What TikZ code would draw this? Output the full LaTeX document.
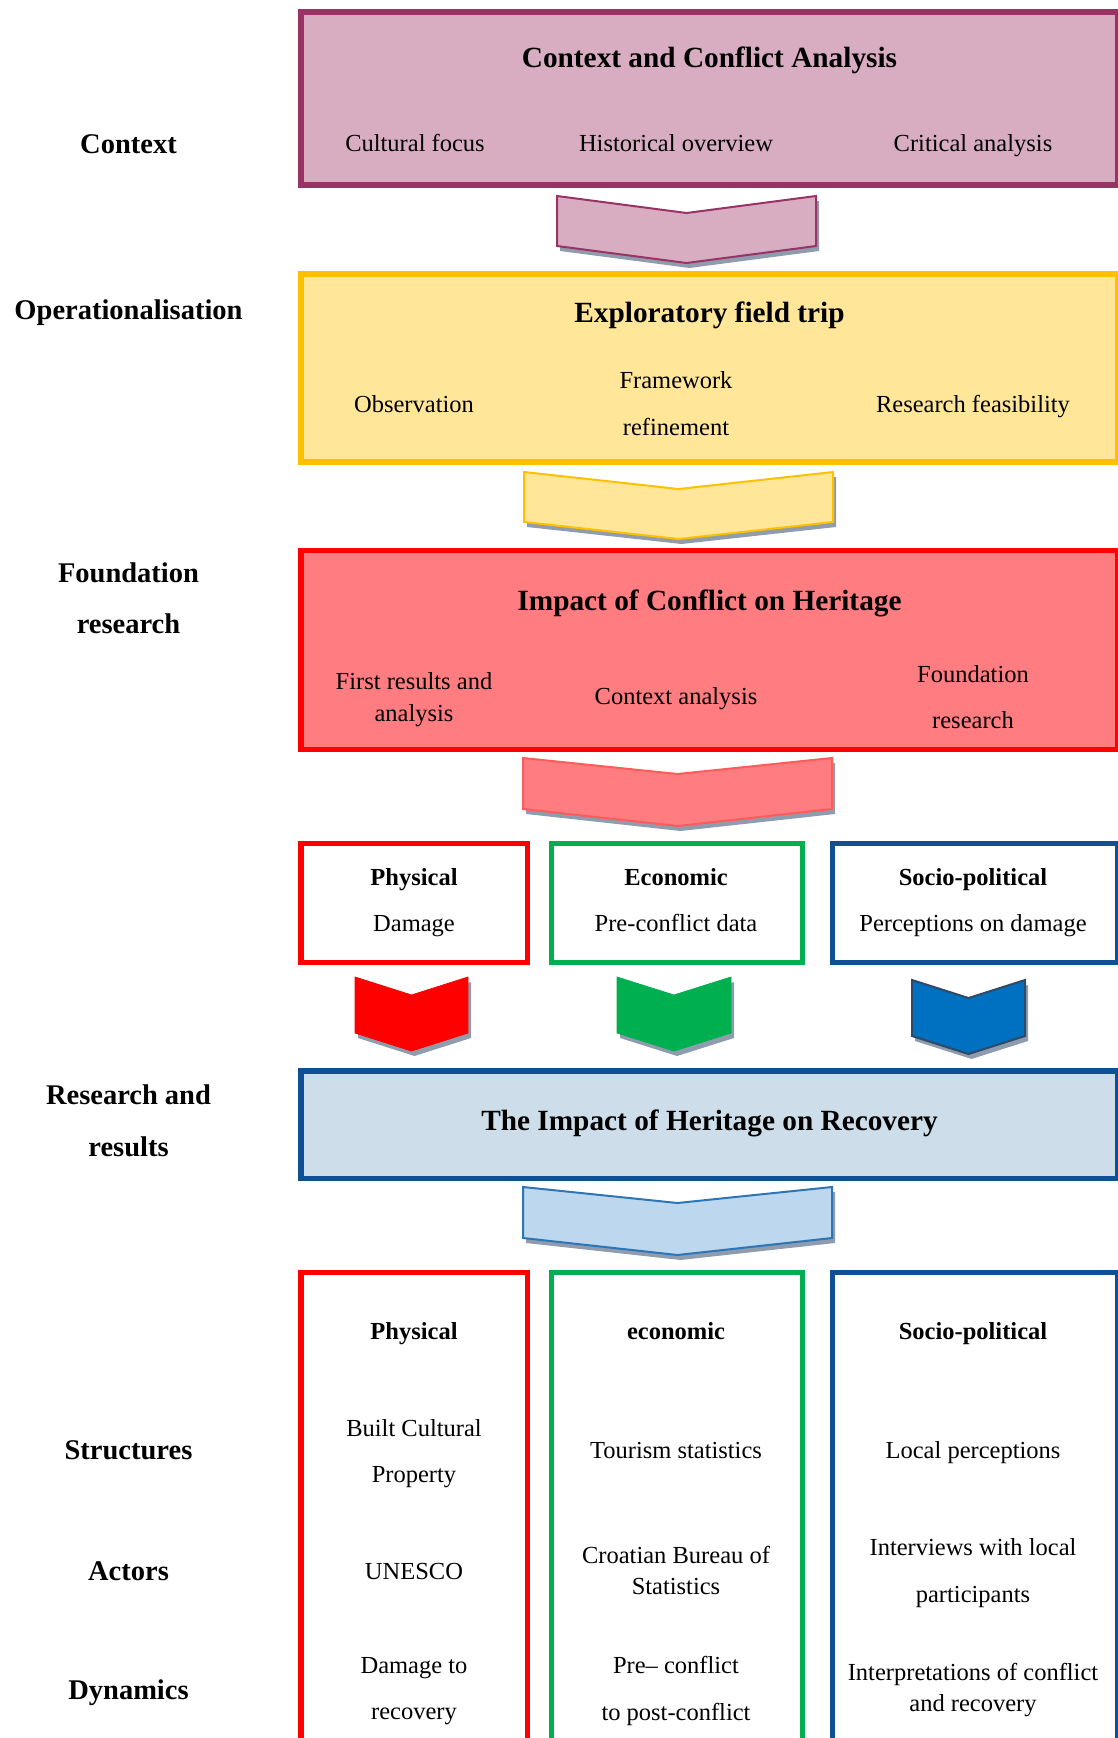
\documentclass[tikz,border=0pt]{standalone}
\usepackage{fontspec}
\setmainfont{Liberation Serif}
\usepackage{xcolor}
\usepackage{tikz}
\usetikzlibrary{shadows}

\definecolor{ctxfill}{HTML}{D8ADC1}
\definecolor{ctxline}{HTML}{993366}
\definecolor{opfill}{HTML}{FFE699}
\definecolor{opline}{HTML}{FFC000}
\definecolor{fndfill}{HTML}{FF7C80}
\definecolor{fndline}{HTML}{FF0000}
\definecolor{fndarrowline}{HTML}{FF5B5B}
\definecolor{econline}{HTML}{00B050}
\definecolor{socline}{HTML}{0F4F93}
\definecolor{recfill}{HTML}{CDDDEA}
\definecolor{recarrow}{HTML}{BDD7EE}
\definecolor{recarrowline}{HTML}{2E75B6}
\definecolor{socarrow}{HTML}{0070C0}
\definecolor{socarrowline}{HTML}{2F4A68}
\definecolor{shade}{HTML}{8F9CAD}

% struts so that descenders do not move the text
\newcommand{\itemstrut}{\rule[-7.4pt]{0pt}{31pt}}
\newcommand{\titlestrut}{\rule[-8.8pt]{0pt}{37pt}}

\begin{document}
\begin{tikzpicture}[x=1pt, y=-1pt,
  box/.style={draw, line width=5.5pt, inner sep=0pt, outer sep=0pt},
  title/.style={font=\fontsize{29.3}{35}\selectfont\bfseries, align=center, inner sep=0pt,
    execute at begin node=\titlestrut, execute at end node=\titlestrut},
  side/.style={font=\fontsize{28.5}{51.5}\selectfont\bfseries, align=center, inner sep=0pt,
    execute at begin node=\titlestrut, execute at end node=\titlestrut},
  head/.style={font=\fontsize{24.5}{30}\selectfont\bfseries, align=center, inner sep=0pt,
    execute at begin node=\itemstrut, execute at end node=\itemstrut},
  item/.style={font=\fontsize{24.5}{46.5}\selectfont, align=center, inner sep=0pt,
    execute at begin node=\itemstrut, execute at end node=\itemstrut},
  itemtight/.style={item, font=\fontsize{24.5}{31.5}\selectfont},
  chev/.style={line width=2pt, line join=miter, drop shadow={shadow xshift=3pt, shadow yshift=-5pt, fill=shade, opacity=1}}
]
\useasboundingbox (0,0) rectangle (1117,1738);

% side labels
\node[side] (lctx) at (128.5,144) {Context};
\node[side] (lop) at (128.5,310) {Operationalisation};
\node[side] (lfnd) at (128.5,602.5) {Foundation\\research};
\node[side] (lres) at (128.5,1125) {Research and\\results};
\node[side] (lstr) at (128.5,1450) {Structures};
\node[side] (lact) at (128.5,1571) {Actors};
\node[side] (ldyn) at (128.5,1690) {Dynamics};

% context
\node[box, fill=ctxfill, draw=ctxline, minimum width=817pt, minimum height=173pt] (ctx) at (709.5,98.5) {};
\node[title] (ctxtitle) at (709.5,57.6) {Context and Conflict Analysis};
\node[item] (ctxa) at (415,143) {Cultural focus};
\node[item] (ctxb) at (676,143) {Historical overview};
\node[item] (ctxc) at (973,143) {Critical analysis};
\filldraw[chev, fill=ctxfill, draw=ctxline] (557,196) -- (686.5,213) -- (816,196) -- (816,246) -- (686.5,263) -- (557,246) -- cycle;

% operationalisation
\node[box, fill=opfill, draw=opline, minimum width=817pt, minimum height=188pt] (op) at (709.5,368) {};
\node[title] (optitle) at (709.5,312.5) {Exploratory field trip};
\node[item] (opa) at (414,404.5) {Observation};
\node[item] (opb) at (676,407) {Framework\\refinement};
\node[item] (opc) at (973,404.5) {Research feasibility};
\filldraw[chev, fill=opfill, draw=opline] (524,472) -- (678.5,489) -- (833,472) -- (833,522) -- (678.5,539) -- (524,522) -- cycle;

% foundation
\node[box, fill=fndfill, draw=fndline, minimum width=817pt, minimum height=199pt] (fnd) at (709.5,650) {};
\node[title] (fndtitle) at (709.5,600.6) {Impact of Conflict on Heritage};
\node[itemtight] (fnda) at (414,700.5) {First results and\\analysis};
\node[item] (fndb) at (676,696) {Context analysis};
\node[item] (fndc) at (973,700.5) {Foundation\\research};
\filldraw[chev, fill=fndfill, draw=fndarrowline] (523,758) -- (677.5,774) -- (832,758) -- (832,809) -- (677.5,826) -- (523,809) -- cycle;

% three strands
\node[box, draw=fndline, fill=white, minimum width=226.5pt, minimum height=119pt] (physA) at (414.25,903) {};
\node[box, draw=econline, fill=white, minimum width=251pt, minimum height=119pt] (econA) at (677,903) {};
\node[box, draw=socline, fill=white, minimum width=285.5pt, minimum height=119pt] (socA) at (975.25,903) {};
\node[head] (physAh) at (414,877.6) {Physical};
\node[item] (physAt) at (414,923) {Damage};
\node[head] (econAh) at (676,877.6) {Economic};
\node[item] (econAt) at (676,923) {Pre-conflict data};
\node[head] (socAh) at (973,877.6) {Socio-political};
\node[item] (socAt) at (973,923) {Perceptions on damage};
\filldraw[chev, fill=fndline, draw=fndline, line width=0.8pt] (355,977) -- (411.5,995) -- (468,977) -- (468,1033) -- (411.5,1051) -- (355,1033) -- cycle;
\filldraw[chev, fill=econline, draw=econline, line width=0.8pt] (617,977) -- (674,995) -- (731,977) -- (731,1033) -- (674,1051) -- (617,1033) -- cycle;
\filldraw[chev, fill=socarrow, draw=socarrowline] (912,980) -- (968.5,998) -- (1025,980) -- (1025,1036) -- (968.5,1054) -- (912,1036) -- cycle;

% recovery
\node[box, fill=recfill, draw=socline, minimum width=817pt, minimum height=107.5pt] (rec) at (709.5,1124.75) {};
\node[title] (rectitle) at (709.5,1121) {The Impact of Heritage on Recovery};
\filldraw[chev, fill=recarrow, draw=recarrowline] (523,1187) -- (677.5,1203) -- (832,1187) -- (832,1238) -- (677.5,1255) -- (523,1238) -- cycle;

% results columns
\node[box, draw=fndline, minimum width=226.5pt, minimum height=472.5pt] (physB) at (414.25,1508.75) {};
\node[box, draw=econline, minimum width=251pt, minimum height=472.5pt] (econB) at (677,1508.75) {};
\node[box, draw=socline, minimum width=285.5pt, minimum height=472.5pt] (socB) at (975.25,1508.75) {};
\node[head] (physBh) at (414,1331.5) {Physical};
\node[item] (physBa) at (414,1454.5) {Built Cultural\\Property};
\node[item] (physBb) at (414,1571) {UNESCO};
\node[item] (physBc) at (414,1692) {Damage to\\recovery};
\node[head] (econBh) at (676,1331.5) {economic};
\node[item] (econBa) at (676,1450.5) {Tourism statistics};
\node[itemtight] (econBb) at (676,1574) {Croatian Bureau of\\Statistics};
\node[item] (econBc) at (676,1692) {Pre-- conflict\\to post-conflict};
\node[head] (socBh) at (973,1331.5) {Socio-political};
\node[item] (socBa) at (973,1450.5) {Local perceptions};
\node[item] (socBb) at (973,1574) {Interviews with local\\participants};
\node[itemtight] (socBc) at (973,1691) {Interpretations of conflict\\and recovery};
\end{tikzpicture}
\end{document}
